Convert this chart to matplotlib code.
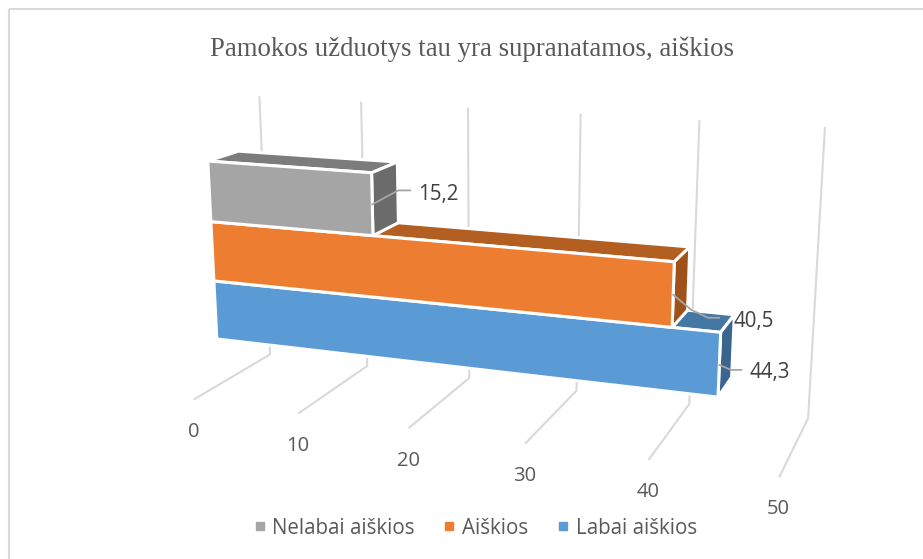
import numpy as np
import matplotlib
matplotlib.use("Agg")
import matplotlib.pyplot as plt
from matplotlib.patches import Polygon, Rectangle
from matplotlib.lines import Line2D

# ---- data ----
title = "Pamokos užduotys tau yra supranatamos, aiškios"
categories = ["Labai aiškios", "Aiškios", "Nelabai aiškios"]
values = [44.3, 40.5, 15.2]
ticks = [0, 10, 20, 30, 40, 50]

front_colors = ["#5B9BD5", "#ED7D31", "#A5A5A5"]
top_colors = ["#4577A5", "#B45F22", "#7C7C7C"]
side_colors = ["#3A658F", "#9E5219", "#6B6B6B"]
GRID = "#D9D9D9"
TEXT = "#595959"
LABEL = "#404040"

# ---- camera: projective map (value, band height, depth) -> pixel, fitted to landmarks ----
Z_FLOOR, Z_TOP, D_BACK, D_FRONT = -0.8, 3.8, 1.8, -0.8
landmarks = [
    (0, 0, 0, 217, 340), (0, 1, 0, 215, 283), (0, 2, 0, 211, 224), (0, 3, 0, 208, 162),
    (44.3, 0, 0, 717, 397), (44.3, 1, 0, 720, 333), (40.5, 1, 0, 672, 326), (40.5, 2, 0, 674, 262),
    (15.2, 2, 0, 372, 234), (15.2, 3, 0, 372, 172), (0, 3, 1, 239, 149), (15.2, 3, 1, 398, 160),
    (15.2, 2, 1, 399, 222), (40.5, 2, 1, 690, 247), (40.5, 1, 1, 689, 307), (44.3, 1, 1, 735, 317),
    (44.3, 0, 1, 733, 383),
    (0, Z_FLOOR, D_BACK, 270, 353), (50, Z_FLOOR, D_BACK, 807, 417),
    (0, Z_FLOOR, D_FRONT, 193, 398), (50, Z_FLOOR, D_FRONT, 780, 475),
    (0, Z_TOP, D_BACK, 258, 99), (50, Z_TOP, D_BACK, 824, 128),
]
A, b = [], []
for v, z, d, px, py in landmarks:
    A.append([v, z, d, 1, 0, 0, 0, 0, -v * px, -z * px, -d * px]); b.append(px)
    A.append([0, 0, 0, 0, v, z, d, 1, -v * py, -z * py, -d * py]); b.append(py)
cam = np.linalg.lstsq(np.array(A, float), np.array(b, float), rcond=None)[0]


def P(v, z, d):
    w = cam[8] * v + cam[9] * z + cam[10] * d + 1
    return ((cam[0] * v + cam[1] * z + cam[2] * d + cam[3]) / w,
            (cam[4] * v + cam[5] * z + cam[6] * d + cam[7]) / w)


fig = plt.figure(figsize=(9.23, 5.59), dpi=100)
ax = fig.add_axes([0, 0, 1, 1])
ax.set_xlim(0, 923)
ax.set_ylim(559, 0)
ax.axis("off")

# only the left and top of the chart frame fall inside the picture
ax.add_patch(Rectangle((9, 9), 930, 570, fill=False, ec=GRID, lw=1.5))
ax.text(472, 49, title, family="Liberation Serif", fontsize=19.3, color=TEXT, ha="center", va="center")

# gridlines on wall and floor, with tick labels below the floor
for t in ticks:
    pts = [P(t, Z_TOP, D_BACK), P(t, Z_FLOOR, D_BACK), P(t, Z_FLOOR, D_FRONT)]
    ax.plot(*zip(*pts), color=GRID, lw=1.5, solid_joinstyle="round", zorder=1)
    fx, fy = pts[-1]
    ax.text(fx - 1, fy + 33, str(t), family="Open Sans", fontsize=14.5, color=TEXT, ha="center", va="center")

# bars, lowest first so that upper boxes cover the top faces below them
for i, (val, cf, ct, cs) in enumerate(zip(values, front_colors, top_colors, side_colors)):
    z0, z1 = i, i + 1
    faces = [
        ([P(0, z1, 0), P(val, z1, 0), P(val, z1, 1), P(0, z1, 1)], ct),
        ([P(val, z0, 0), P(val, z1, 0), P(val, z1, 1), P(val, z0, 1)], cs),
        ([P(0, z0, 0), P(val, z0, 0), P(val, z1, 0), P(0, z1, 0)], cf),
    ]
    for verts, col in faces:
        ax.add_patch(Polygon(verts, closed=True, fc=col, ec="white", lw=2.2, joinstyle="round", zorder=2 + i))

# data labels with leader lines
offsets = [[(12, 5), (22, 5)], [(18, 15), (35, 23), (46, 23)], [(26, -14), (38, -14)]]
label_gap = [(50, 8), (80, 27), (66, -10)]
for i, val in enumerate(values):
    ax_, ay_ = P(val, i + 0.5, 0)
    xs = [ax_] + [ax_ + o[0] for o in offsets[i]]
    ys = [ay_] + [ay_ + o[1] for o in offsets[i]]
    ax.plot(xs, ys, color="#A6A6A6", lw=1.3, zorder=10)
    ax.text(ax_ + label_gap[i][0], ay_ + label_gap[i][1], f"{val}".replace(".", ","), family="Open Sans",
            fontsize=14.8, color=LABEL, ha="center", va="center", zorder=11)

# legend
order = [2, 1, 0]
handles = [Line2D([], [], ls="", marker="s", ms=6, color=front_colors[i], label=categories[i]) for i in order]
ax.legend(handles=handles, loc="center", bbox_to_anchor=(474 / 923, 1 - 528 / 559), ncol=3, frameon=False,
          prop={"family": "Open Sans", "size": 14.8}, labelcolor=TEXT, handletextpad=0.22, columnspacing=1.28,
          handlelength=0.8, borderpad=0, borderaxespad=0)

fig.savefig("out.png", dpi=100)
